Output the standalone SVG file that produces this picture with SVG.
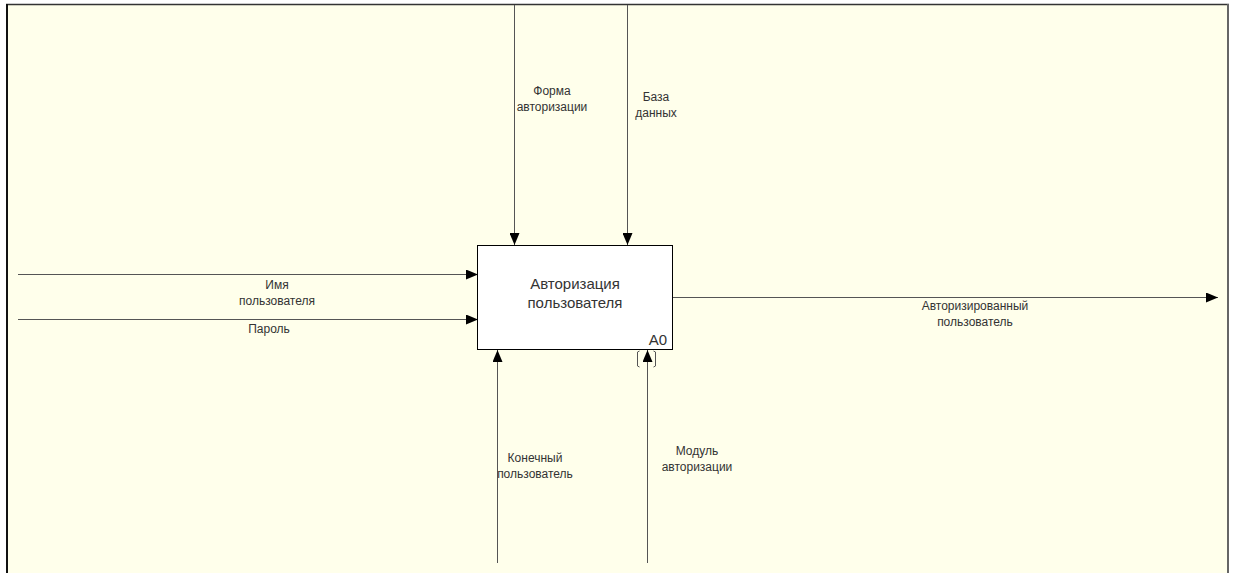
<svg xmlns="http://www.w3.org/2000/svg" width="1236" height="573" viewBox="0 0 1236 573">
  <style>
    .lbl { font-family: "Liberation Sans", Arial, sans-serif; font-size: 12px; fill: #333; text-anchor: middle; }
    .box-t { font-family: "Liberation Sans", Arial, sans-serif; font-size: 15px; fill: #333; text-anchor: middle; }
    .arrow { stroke: #555; stroke-width: 1; fill: none; }
  </style>
  <defs>
    <marker id="ah" viewBox="0 0 12 10" refX="12" refY="5" markerWidth="12" markerHeight="10" markerUnits="userSpaceOnUse" orient="auto">
      <path d="M0,0 L12,5 L0,10 Z" fill="#000"/>
    </marker>
  </defs>

  <!-- page -->
  <rect x="0" y="0" width="1236" height="573" fill="#fff"/>
  <rect x="7" y="5" width="1221" height="568" fill="#FFFFEB"/>
  <line x1="6" y1="4.5" x2="1229" y2="4.5" stroke="#333" stroke-width="1.5"/>
  <line x1="7" y1="4" x2="7" y2="573" stroke="#111" stroke-width="2"/>
  <line x1="1228" y1="4" x2="1228" y2="573" stroke="#666" stroke-width="2"/>

  <!-- connectors -->
  <g id="connectors">
    <line class="arrow" x1="514.5" y1="5" x2="514.5" y2="245" marker-end="url(#ah)"/>
    <line class="arrow" x1="627.5" y1="5" x2="627.5" y2="245" marker-end="url(#ah)"/>
    <line class="arrow" x1="18" y1="274.5" x2="478" y2="274.5" marker-end="url(#ah)"/>
    <line class="arrow" x1="18" y1="319.5" x2="478" y2="319.5" marker-end="url(#ah)"/>
    <line class="arrow" x1="673" y1="297.5" x2="1218" y2="297.5" marker-end="url(#ah)"/>
    <line class="arrow" x1="497.5" y1="563" x2="497.5" y2="350" marker-end="url(#ah)"/>
    <line class="arrow" x1="647.5" y1="563" x2="647.5" y2="350" marker-end="url(#ah)"/>
    <!-- tunnel brackets -->
    <path d="M639.5,351 L637.5,352 L637.5,366 L639.5,367" class="arrow"/>
    <path d="M653.5,351 L655.5,352 L655.5,366 L653.5,367" class="arrow"/>

    <text class="lbl" x="552" y="95">Форма</text>
    <text class="lbl" x="552" y="111">авторизации</text>
    <text class="lbl" x="656" y="101">База</text>
    <text class="lbl" x="656" y="117">данных</text>
    <text class="lbl" x="277" y="289">Имя</text>
    <text class="lbl" x="277" y="305">пользователя</text>
    <text class="lbl" x="269" y="333">Пароль</text>
    <text class="lbl" x="975" y="310">Авторизированный</text>
    <text class="lbl" x="975" y="326">пользователь</text>
    <text class="lbl" x="535" y="462">Конечный</text>
    <text class="lbl" x="535" y="478">пользователь</text>
    <text class="lbl" x="697" y="455">Модуль</text>
    <text class="lbl" x="697" y="471">авторизации</text>
  </g>

  <!-- activity box -->
  <g id="node-A0">
    <rect x="477.5" y="245.5" width="195" height="104" fill="#fff" stroke="#000" stroke-width="1"/>
    <text class="box-t" x="575" y="289">Авторизация</text>
    <text class="box-t" x="575" y="308">пользователя</text>
    <text class="box-t" x="658" y="345">A0</text>
  </g>
</svg>
